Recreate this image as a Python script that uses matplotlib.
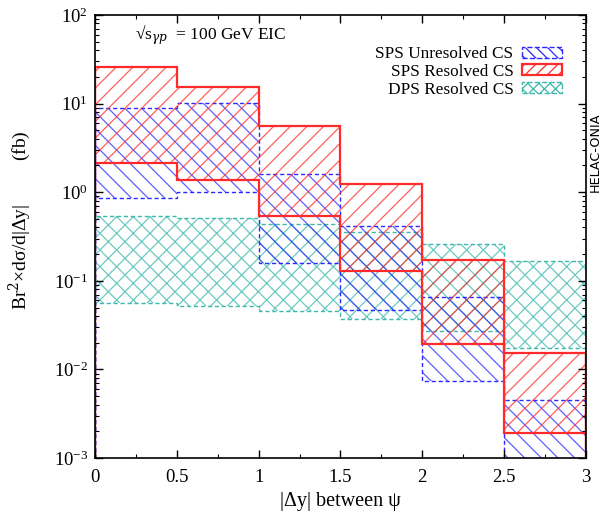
import matplotlib
matplotlib.use('Agg')
import matplotlib.pyplot as plt
from matplotlib.patches import Patch
import numpy as np

# bin edges in |dy|
edges = [0, 0.5, 1.0, 1.5, 2.0, 2.5, 3.0]

# SPS unresolved CS band (fb)
sps_unres_hi = [9.0, 10.2, 1.6, 0.42, 0.066, 0.0045]
sps_unres_lo = [0.86, 1.0, 0.16, 0.047, 0.0074, 0.0008]

# SPS resolved CS band (fb)
sps_res_hi = [26.0, 15.4, 5.6, 1.25, 0.17, 0.0152]
sps_res_lo = [2.15, 1.36, 0.54, 0.128, 0.0194, 0.0019]

# DPS resolved CS band (fb)
dps_res_hi = [0.54, 0.515, 0.44, 0.358, 0.26, 0.169]
dps_res_lo = [0.0566, 0.052, 0.0456, 0.0367, 0.0269, 0.0176]

plt.rcParams['font.family'] = ['Liberation Serif', 'DejaVu Serif']
plt.rcParams['mathtext.fontset'] = 'dejavuserif'
plt.rcParams['hatch.linewidth'] = 0.9

fig = plt.figure(figsize=(6.09, 5.13), dpi=100)
ax = fig.add_axes([0.156, 0.107, 0.806, 0.864])

def band(ax, lo, hi, color, hatch, ls, lw, hatch_alpha):
    x = np.array(edges)
    ylo = np.append(lo, lo[-1])
    yhi = np.append(hi, hi[-1])
    ax.fill_between(x, ylo, yhi, step='post', facecolor='none',
                    edgecolor=color, alpha=hatch_alpha, linewidth=0, hatch=hatch)
    ax.stairs(hi, edges, color=color, linestyle=ls, linewidth=lw)
    ax.stairs(lo, edges, color=color, linestyle=ls, linewidth=lw)
    ax.vlines([edges[0], edges[-1]], [lo[0], lo[-1]], [hi[0], hi[-1]],
              color=color, linestyle=ls, linewidth=lw)

band(ax, dps_res_lo, dps_res_hi, '#3cb8ad', 'xx', (0, (3, 2)), 1.0, 0.75)
band(ax, sps_unres_lo, sps_unres_hi, '#2a2aff', '\\\\', (0, (3, 2)), 1.0, 0.75)
band(ax, sps_res_lo, sps_res_hi, '#ff2a2a', '//', '-', 1.6, 0.75)

ax.set_yscale('log')
ax.set_xlim(0, 3)
ax.set_ylim(1e-3, 1e2)
ax.set_xticks([0, 0.5, 1, 1.5, 2, 2.5, 3])
ax.set_xticklabels(['0', '0.5', '1', '1.5', '2', '2.5', '3'])
ax.set_xticks(np.arange(0, 3.01, 0.25), minor=True)
ax.tick_params(which='both', direction='in', top=True, right=True, labelsize=13.5)
ax.tick_params(which='major', length=6, width=1)
ax.tick_params(which='minor', length=3, width=0.8)
ax.tick_params(axis='x', pad=8)
ax.tick_params(axis='y', pad=5)
for s in ax.spines.values():
    s.set_linewidth(1.2)

ax.set_xlabel('|Δy| between ψ', fontsize=14.5, labelpad=4)
ax.set_ylabel('Br$^2$×dσ/d|Δy|         (fb)', fontsize=14)
ax.yaxis.set_label_coords(-0.126, 0.537)

ax.text(0.081, 0.955, '√s$_{\\gamma p}$  = 100 GeV EIC', transform=ax.transAxes,
        fontsize=12.5, va='center', ha='left')

handles = [
    Patch(facecolor='none', edgecolor='#2a2aff', hatch='\\\\\\', linestyle='--', linewidth=1),
    Patch(facecolor='none', edgecolor='#ff2a2a', hatch='///', linestyle='-', linewidth=1.6),
    Patch(facecolor='none', edgecolor='#3cb8ad', hatch='xxx', linestyle='--', linewidth=1),
]
labels = ['SPS Unresolved CS', 'SPS Resolved CS', 'DPS Resolved CS']
ax.legend(handles, labels, loc='upper right', bbox_to_anchor=(0.965, 0.945),
          frameon=False, markerfirst=False, fontsize=12.4, handlelength=2.3,
          handleheight=0.6, handletextpad=0.5, labelspacing=0.1, borderaxespad=0)

fig.text(0.977, 0.703, 'HELAC-ONIA', rotation=90, fontsize=9.2,
         family='DejaVu Sans', ha='center', va='center')

fig.savefig('out.png', dpi=100)
